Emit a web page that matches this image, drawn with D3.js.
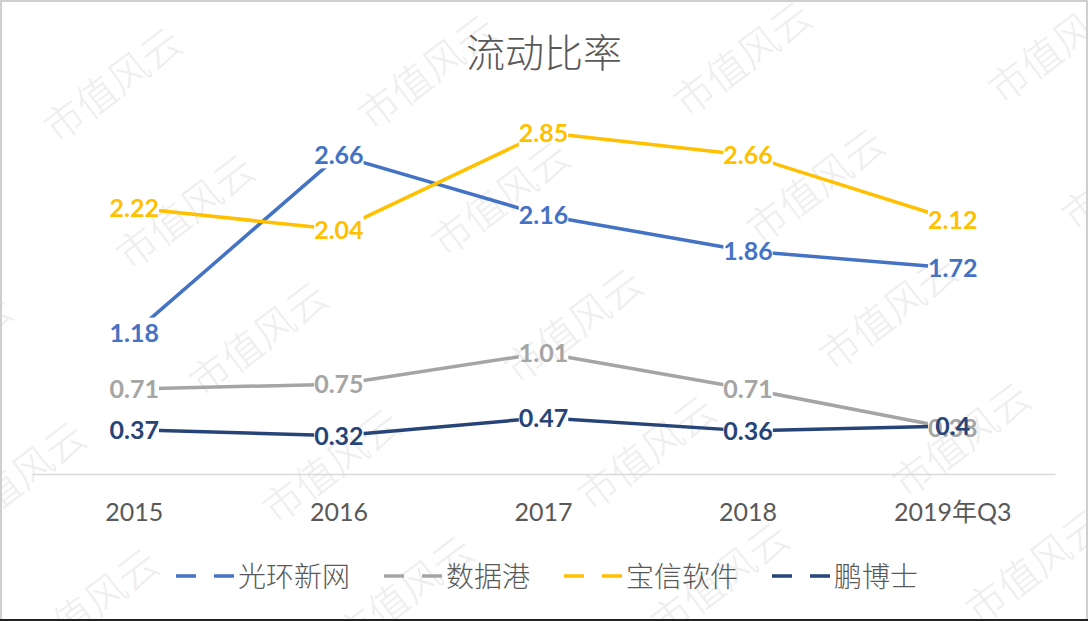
<!DOCTYPE html>
<html>
<head>
<meta charset="utf-8">
<script src="https://cdn.jsdelivr.net/npm/d3@7"></script>
<style>
  body { margin: 0; background: #fff; }
  svg { display: block; }
</style>
</head>
<body>
<div id="chart"></div>
<script>
// data
const categories = ["2015", "2016", "2017", "2018", "2019年Q3"];
const seriesNames = ["光环新网", "数据港", "宝信软件", "鹏博士"];
const guanghuan = [1.18, 2.66, 2.16, 1.86, 1.72];
const shujugang = [0.71, 0.75, 1.01, 0.71, 0.38];
const baoxin = [2.22, 2.04, 2.85, 2.66, 2.12];
const pengboshi = [0.37, 0.32, 0.47, 0.36, 0.4];
const colors = ["#4472C4", "#A5A5A5", "#FFC000", "#264478"];
const title = "流动比率";
const watermark = "市值风云";

const allSeries = [guanghuan, shujugang, baoxin, pengboshi];

const width = 1088, height = 621;
const cjk = "'Noto Sans CJK SC', 'Noto Sans', sans-serif";
const num = "Lato, 'Noto Sans CJK SC', sans-serif";

const svg = d3.select("#chart").append("svg")
    .attr("width", width)
    .attr("height", height);

svg.append("rect")
    .attr("width", width).attr("height", height)
    .attr("fill", "#fff");

// watermark grid
const wm = svg.append("g");
d3.range(-1, 7).forEach(r => {
    d3.range(-1, 5).forEach(c => {
        const cx = 111 + 315 * c + 73 * r;
        const cy = 83 - 13 * c + 127 * r;
        if (cx < -120 || cx > width + 120 || cy < -80 || cy > height + 80) return;
        wm.append("text")
            .attr("transform", `translate(${cx},${cy}) rotate(-37)`)
            .attr("text-anchor", "middle")
            .attr("dominant-baseline", "central")
            .attr("font-family", cjk)
            .attr("font-weight", 200)
            .attr("font-size", 40)
            .attr("fill", "#eeeeee")
            .text(watermark);
    });
});

// scales
const x = d3.scaleBand().domain(categories).range([32, 1055]);
const cx = d => x(d) + x.bandwidth() / 2;
const y = d3.scaleLinear().domain([0, 3.5]).range([474, 474 - 3.5 * 119.8]);

// title
svg.append("text")
    .attr("x", 544).attr("y", 50)
    .attr("text-anchor", "middle")
    .attr("dominant-baseline", "central")
    .attr("font-family", cjk)
    .attr("font-weight", 300)
    .attr("font-size", 39)
    .attr("fill", "#595959")
    .text(title);

// x axis
const xAxis = svg.append("g")
    .attr("transform", "translate(0,474)")
    .call(d3.axisBottom(x).tickSize(0).tickPadding(0));
xAxis.select(".domain").attr("stroke", "#d9d9d9").attr("stroke-width", 1.5);
xAxis.selectAll("text")
    .attr("y", 47).attr("dy", 0)
    .attr("font-family", num)
    .attr("font-size", 25)
    .attr("fill", "#595959");

// lines (masked where labels sit)
const defs = svg.append("defs");
const mask = defs.append("mask")
    .attr("id", "labelmask")
    .attr("maskUnits", "userSpaceOnUse")
    .attr("x", 0).attr("y", 0).attr("width", width).attr("height", height);
mask.append("rect").attr("width", width).attr("height", height).attr("fill", "#fff");

const line = d3.line()
    .x((d, i) => cx(categories[i]))
    .y(d => y(d));

svg.append("g")
    .attr("mask", "url(#labelmask)")
    .selectAll("path")
    .data(allSeries)
    .join("path")
    .attr("d", d => line(d))
    .attr("fill", "none")
    .attr("stroke", (d, i) => colors[i])
    .attr("stroke-width", 3.5)
    .attr("stroke-linejoin", "round");

// data labels
const labels = svg.append("g");
allSeries.forEach((vals, s) => {
    labels.selectAll(null)
        .data(vals)
        .join("text")
        .attr("x", (d, i) => cx(categories[i]))
        .attr("y", d => y(d))
        .attr("dy", "0.36em")
        .attr("text-anchor", "middle")
        .attr("font-family", num)
        .attr("font-weight", 700)
        .attr("font-size", 25)
        .attr("fill", colors[s])
        .text(d => d);
});

labels.selectAll("text").each(function() {
    const b = this.getBBox();
    mask.append("rect")
        .attr("x", b.x).attr("y", b.y + 1)
        .attr("width", b.width).attr("height", b.height - 2)
        .attr("fill", "#000");
});

// legend
const legend = svg.append("g");
let lx = 0;
seriesNames.forEach((name, i) => {
    const g = legend.append("g").attr("transform", `translate(${lx},0)`);
    g.append("line")
        .attr("x1", 0).attr("x2", 58)
        .attr("y1", 576).attr("y2", 576)
        .attr("stroke", colors[i])
        .attr("stroke-width", 3.5)
        .attr("stroke-dasharray", "20,18");
    const t = g.append("text")
        .attr("x", 62).attr("y", 575)
        .attr("dominant-baseline", "central")
        .attr("font-family", cjk)
        .attr("font-weight", 300)
        .attr("font-size", 28)
        .attr("fill", "#595959")
        .text(name);
    lx += 62 + t.node().getComputedTextLength() + 34;
});
const legendW = lx - 34;
legend.attr("transform", `translate(${547 - legendW / 2},0)`);

// outer frame
svg.append("rect")
    .attr("x", 1).attr("y", 1)
    .attr("width", width - 2).attr("height", height - 2)
    .attr("fill", "none")
    .attr("stroke", "#cfcfcf")
    .attr("stroke-width", 2);
svg.append("line")
    .attr("x1", 0).attr("x2", width)
    .attr("y1", 620).attr("y2", 620)
    .attr("stroke", "#222")
    .attr("stroke-width", 2);
</script>
</body>
</html>
